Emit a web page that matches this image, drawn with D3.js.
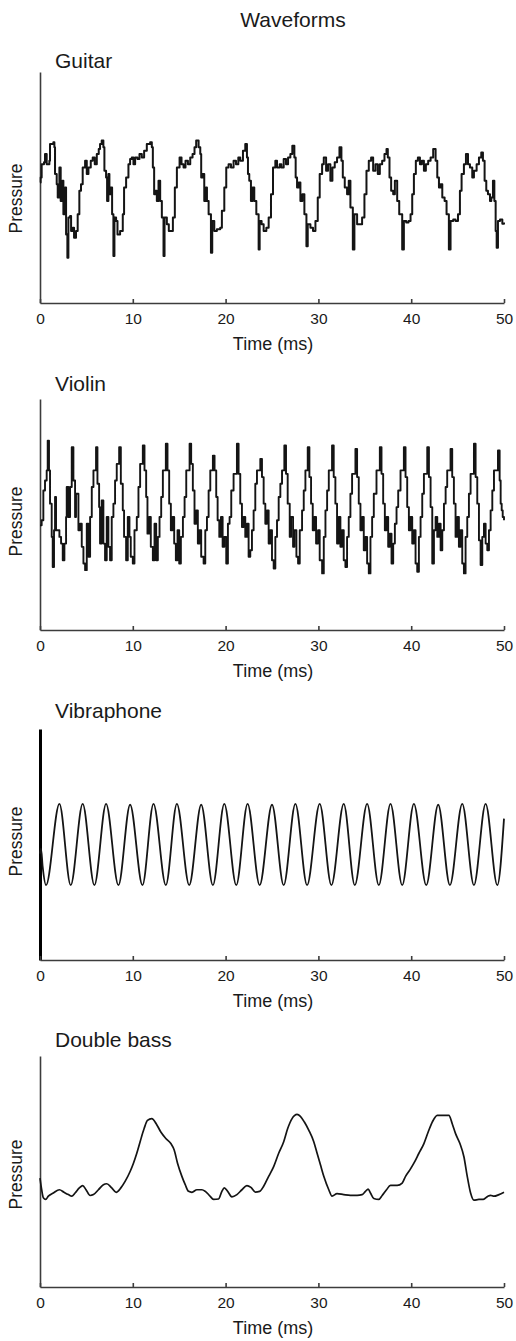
<!DOCTYPE html>
<html>
<head>
<meta charset="utf-8">
<script src="https://cdn.jsdelivr.net/npm/d3@7"></script>
<style>
  body { margin: 0; background: #fff; }
  svg { display: block; font-family: "Liberation Sans", Arial, Helvetica, sans-serif; }
  .domain { stroke: #3c3c3c; stroke-width: 1.6; }
  .tick line { stroke: #3c3c3c; stroke-width: 1.6; }
  .tick text { font-size: 15.5px; fill: #1a1a1a; }
  .wave { fill: none; stroke: #141414; stroke-linejoin: round; }
</style>
</head>
<body>
<div id="chart"></div>
<script>
// Waveforms: [time (ms), pressure (arbitrary units, 0-10)]
const guitar = [
  [0,5.22],[0.07,5.43],[0.18,6.01],[0.43,6.09],[0.54,6.45],[0.72,6.01],[1.01,6.16],[1.08,6.88],[1.44,6.96],[1.55,6.74],
  [1.62,5.58],[1.80,5.14],[1.91,4.57],[2.09,5.87],[2.23,4.42],[2.41,5.29],[2.52,3.84],[2.70,5.00],[2.81,2.97],[2.95,1.96],
  [3.06,3.70],[3.24,3.77],[3.35,3.12],[3.53,3.26],[3.67,2.83],[3.88,3.12],[4.06,3.84],[4.24,4.86],[4.42,5.14],[4.60,5.87],
  [4.86,6.16],[5.04,5.58],[5.22,5.87],[5.47,6.16],[5.68,6.30],[5.90,6.01],[6.12,6.45],[6.33,6.67],[6.47,6.88],[6.65,7.03],
  [6.83,6.74],[6.94,5.72],[7.12,5.43],[7.23,4.42],[7.37,5.58],[7.48,4.71],[7.63,5.00],[7.77,3.84],[7.91,2.03],[8.02,3.70],
  [8.20,3.55],[8.35,2.97],[8.63,3.12],[8.92,3.84],[9.06,5.00],[9.28,5.43],[9.53,6.01],[9.71,6.23],[9.89,6.30],[10.07,6.01],
  [10.25,6.30],[10.50,6.23],[10.72,6.45],[10.97,6.30],[11.22,6.59],[11.51,6.88],[11.87,6.96],[12.05,6.74],[12.16,5.87],[12.30,4.71],
  [12.45,4.86],[12.59,4.42],[12.77,5.29],[12.95,4.42],[13.13,3.70],[13.31,2.03],[13.42,3.70],[13.67,3.41],[13.88,3.12],[14.10,3.12],
  [14.32,3.70],[14.53,5.00],[14.75,5.87],[15.04,6.30],[15.25,6.01],[15.47,5.87],[15.68,6.16],[15.94,6.01],[16.19,6.30],[16.44,6.45],
  [16.65,6.74],[16.83,7.03],[17.09,6.74],[17.27,6.45],[17.37,5.43],[17.52,5.58],[17.70,4.42],[17.88,5.00],[17.99,4.42],[18.17,3.84],
  [18.42,2.17],[18.56,3.55],[18.78,3.12],[19.06,3.19],[19.42,3.26],[19.60,3.99],[19.86,5.00],[20.07,5.87],[20.32,6.01],[20.58,5.87],
  [20.86,6.16],[21.12,6.01],[21.37,6.30],[21.58,6.16],[21.87,6.59],[22.12,6.88],[22.30,6.30],[22.41,5.58],[22.55,5.29],[22.73,4.42],
  [22.91,5.00],[23.09,4.42],[23.31,3.84],[23.56,2.32],[23.67,3.55],[23.88,3.41],[24.10,3.12],[24.39,3.26],[24.64,3.70],[24.89,4.71],
  [25.11,5.87],[25.36,6.16],[25.54,5.87],[25.83,6.01],[26.01,5.87],[26.26,6.23],[26.51,6.01],[26.73,6.30],[26.98,6.45],[27.19,6.81],
  [27.41,6.30],[27.55,5.43],[27.70,5.00],[27.88,5.22],[28.06,4.42],[28.27,4.71],[28.49,3.84],[28.71,2.46],[28.85,3.41],[29.14,3.26],
  [29.42,3.12],[29.68,3.55],[29.93,4.57],[30.14,5.58],[30.40,6.01],[30.58,6.30],[30.83,5.72],[31.04,6.01],[31.29,5.29],[31.51,5.87],
  [31.76,6.09],[32.01,6.30],[32.27,6.74],[32.48,6.16],[32.63,5.43],[32.84,5.00],[33.09,4.71],[33.27,5.29],[33.45,4.13],[33.71,2.32],
  [33.88,3.84],[34.17,3.41],[34.46,3.41],[34.71,3.70],[34.96,4.71],[35.18,5.72],[35.43,6.16],[35.68,6.30],[35.90,5.72],[36.15,6.01],
  [36.40,5.58],[36.62,6.01],[36.87,6.16],[37.12,6.45],[37.34,6.67],[37.48,6.30],[37.66,5.43],[37.84,4.86],[38.06,4.71],[38.24,5.29],
  [38.49,4.42],[38.71,3.84],[39.03,2.32],[39.21,3.55],[39.46,3.48],[39.71,3.55],[39.93,3.84],[40.11,4.71],[40.29,5.58],[40.50,6.16],
  [40.72,6.30],[40.94,6.01],[41.15,6.16],[41.37,5.72],[41.58,6.01],[41.83,6.16],[42.09,6.30],[42.37,6.67],[42.63,6.16],[42.81,5.43],
  [42.99,5.00],[43.17,5.14],[43.35,4.57],[43.60,4.42],[43.81,3.84],[44.06,2.32],[44.24,3.55],[44.53,3.62],[44.78,3.55],[45.04,3.84],
  [45.25,4.86],[45.43,5.58],[45.68,6.01],[45.90,6.45],[46.12,6.01],[46.33,5.87],[46.58,5.43],[46.76,5.72],[47.05,6.01],[47.30,6.30],
  [47.55,6.52],[47.73,6.16],[47.91,5.29],[48.09,4.86],[48.27,4.71],[48.49,4.42],[48.63,4.57],[48.81,5.29],[48.96,4.42],[49.10,3.12],
  [49.21,2.39],[49.35,3.55],[49.57,3.62],[49.82,3.43],[50.00,3.48]
];

const violin = [
  [0.00,4.53],[0.18,4.75],[0.36,6.04],[0.54,6.47],[0.72,6.91],[0.83,8.20],[0.97,6.91],[1.08,5.47],[1.26,4.03],[1.37,2.73],
  [1.51,4.32],[1.62,5.76],[1.73,4.32],[1.87,4.32],[2.09,4.03],[2.27,3.74],[2.45,3.02],[2.63,3.74],[2.81,4.89],[2.88,6.19],
  [3.06,4.89],[3.24,6.19],[3.42,7.91],[3.60,6.47],[3.78,4.89],[3.88,5.90],[4.14,4.32],[4.32,4.60],[4.50,3.60],[4.68,2.88],
  [4.86,2.59],[5.04,4.60],[5.22,3.17],[5.40,4.89],[5.58,6.19],[5.76,6.91],[6.04,7.91],[6.19,6.33],[6.37,5.32],[6.47,3.74],
  [6.65,5.61],[6.83,3.74],[7.01,3.02],[7.19,4.89],[7.37,3.60],[7.55,3.02],[7.73,4.89],[7.91,5.47],[8.09,6.47],[8.27,7.19],
  [8.53,7.91],[8.71,6.33],[8.92,5.18],[9.06,4.03],[9.28,3.02],[9.46,4.89],[9.64,4.03],[9.78,3.17],[10.00,2.88],[10.18,4.32],
  [10.43,4.89],[10.61,6.19],[10.79,7.19],[11.08,7.99],[11.26,6.91],[11.44,5.76],[11.58,4.17],[11.76,4.89],[11.94,3.60],[12.16,3.02],
  [12.34,4.60],[12.52,3.02],[12.70,4.03],[12.88,4.89],[13.06,5.76],[13.24,6.91],[13.56,8.06],[13.74,6.91],[13.92,5.47],[14.10,4.32],
  [14.28,4.89],[14.46,3.74],[14.64,3.02],[14.82,4.32],[15.00,2.88],[15.18,4.03],[15.40,4.89],[15.58,5.76],[15.76,6.91],[16.12,8.06],
  [16.29,7.19],[16.47,6.04],[16.65,4.60],[16.83,5.18],[17.01,3.74],[17.19,4.32],[17.37,3.17],[17.63,2.88],[17.81,4.32],[17.99,4.89],
  [18.17,6.04],[18.35,6.91],[18.63,7.55],[18.81,6.91],[18.99,5.76],[19.14,4.75],[19.32,4.03],[19.50,4.89],[19.68,3.60],[19.86,4.03],
  [20.07,2.88],[20.25,4.60],[20.43,4.89],[20.61,6.04],[20.86,6.76],[21.22,8.06],[21.40,6.76],[21.58,5.47],[21.76,4.46],[21.94,4.89],
  [22.12,4.03],[22.30,4.60],[22.48,3.17],[22.66,3.45],[22.84,4.32],[23.02,5.18],[23.20,6.33],[23.38,6.91],[23.74,7.41],[23.92,6.62],
  [24.10,5.47],[24.28,4.60],[24.46,5.18],[24.64,3.74],[24.82,4.32],[25.00,3.02],[25.18,2.66],[25.36,4.03],[25.54,4.75],[25.72,5.76],
  [25.90,6.33],[26.08,6.91],[26.33,7.99],[26.51,6.76],[26.69,5.47],[26.91,4.03],[27.05,4.89],[27.27,3.60],[27.41,4.32],[27.63,3.17],
  [27.81,2.88],[27.99,4.32],[28.24,5.18],[28.42,6.04],[28.60,6.91],[28.85,7.91],[29.03,6.62],[29.21,5.47],[29.39,4.32],[29.57,4.89],
  [29.75,3.74],[29.96,4.32],[30.14,3.02],[30.40,2.45],[30.58,4.03],[30.76,5.18],[30.94,6.04],[31.12,6.91],[31.47,7.99],[31.65,6.62],
  [31.83,5.47],[32.01,3.74],[32.19,4.89],[32.37,3.60],[32.55,4.32],[32.73,3.02],[32.91,2.73],[33.09,4.03],[33.27,4.89],[33.45,5.90],
  [33.63,6.76],[33.99,7.84],[34.17,6.62],[34.35,5.47],[34.53,4.32],[34.71,4.89],[34.89,3.45],[35.07,4.03],[35.25,2.88],[35.43,2.45],
  [35.61,4.03],[35.79,4.89],[35.97,5.90],[36.26,6.91],[36.62,7.91],[36.80,6.76],[36.98,5.47],[37.16,4.32],[37.34,4.89],[37.52,3.60],
  [37.70,4.17],[37.88,2.88],[38.06,3.74],[38.24,4.60],[38.42,5.32],[38.60,6.04],[38.85,6.91],[39.21,7.91],[39.39,6.62],[39.57,5.32],
  [39.75,4.32],[39.93,4.89],[40.11,3.74],[40.29,4.32],[40.47,2.88],[40.65,2.52],[40.83,4.03],[41.01,4.89],[41.19,5.90],[41.37,6.76],
  [41.73,7.91],[41.91,6.62],[42.09,5.32],[42.27,2.88],[42.45,4.32],[42.63,4.89],[42.81,4.03],[42.99,4.60],[43.17,3.45],[43.35,4.32],
  [43.53,5.47],[43.71,6.19],[43.88,6.91],[44.24,7.84],[44.42,6.62],[44.60,5.47],[44.78,4.03],[44.96,4.89],[45.14,3.60],[45.32,4.32],
  [45.50,2.88],[45.68,2.45],[45.86,4.03],[46.04,4.89],[46.22,5.90],[46.40,6.76],[46.76,8.06],[46.94,6.62],[47.12,5.47],[47.30,3.88],
  [47.48,2.81],[47.66,4.03],[47.84,4.60],[48.02,3.74],[48.20,3.45],[48.38,4.32],[48.56,5.18],[48.74,6.04],[48.92,6.91],[49.35,7.77],
  [49.53,6.47],[49.64,5.47],[49.75,5.18],[49.86,4.89],[50.00,4.75]
];

const vibraphone = [
  [0,4.60],[0.11,4.82],[0.29,4.03],[0.65,3.24],[2.09,6.76],[3.31,3.24],[4.60,6.76],[5.86,3.24],[7.12,6.76],[8.45,3.24],
  [9.71,6.72],[11.04,3.24],[12.23,6.76],[13.56,3.24],[14.75,6.76],[16.08,3.24],[17.37,6.72],[18.63,3.24],[19.86,6.76],[21.15,3.24],
  [22.37,6.76],[23.67,3.24],[25.00,6.72],[26.26,3.24],[27.52,6.76],[28.78,3.24],[30.14,6.76],[31.40,3.24],[32.73,6.76],[33.92,3.24],
  [35.25,6.76],[36.51,3.24],[37.77,6.76],[39.03,3.24],[40.29,6.76],[41.62,3.24],[42.91,6.72],[44.17,3.24],[45.50,6.76],[46.76,3.24],
  [48.02,6.76],[49.28,3.24],[50.00,6.12]
];

const doubleBass = [
  [0,4.71],[0.18,4.21],[0.36,3.86],[0.61,3.79],[0.90,3.93],[1.44,4.07],[2.09,4.21],[2.59,4.10],[3.06,4.00],[3.42,3.93],
  [3.78,4.07],[4.24,4.29],[4.60,4.39],[4.96,4.21],[5.40,3.96],[5.76,4.00],[6.29,4.21],[6.83,4.43],[7.19,4.47],[7.73,4.29],
  [8.20,4.10],[8.71,4.29],[9.17,4.57],[9.71,5.00],[10.07,5.36],[10.43,5.79],[10.79,6.29],[11.22,6.86],[11.58,7.21],[12.05,7.29],
  [12.52,7.07],[13.02,6.71],[13.56,6.43],[14.10,6.21],[14.46,5.93],[14.82,5.36],[15.29,4.79],[15.65,4.43],[16.01,4.14],[16.37,4.10],
  [16.91,4.21],[17.45,4.21],[17.81,4.14],[18.27,3.96],[18.71,3.79],[19.24,3.81],[19.60,4.14],[19.86,4.29],[20.22,4.14],[20.68,3.90],
  [21.22,4.00],[21.76,4.21],[22.30,4.39],[22.73,4.31],[23.20,4.11],[23.67,4.14],[24.10,4.36],[24.64,4.79],[25.18,5.21],[25.72,5.79],
  [26.26,6.29],[26.69,6.86],[27.16,7.29],[27.70,7.47],[28.06,7.39],[28.49,7.14],[28.96,6.79],[29.50,6.29],[29.86,5.79],[30.22,5.29],
  [30.58,4.79],[31.12,4.21],[31.47,3.93],[32.01,4.04],[32.73,4.00],[33.45,3.97],[34.17,3.97],[34.71,4.00],[35.07,4.14],[35.36,4.24],
  [35.61,4.07],[35.97,3.83],[36.51,3.79],[36.87,3.96],[37.34,4.21],[37.77,4.40],[38.49,4.40],[39.03,4.50],[39.39,4.79],[39.86,5.07],
  [40.29,5.36],[40.83,5.79],[41.37,6.21],[41.83,6.71],[42.27,7.14],[42.81,7.43],[43.53,7.43],[44.06,7.43],[44.42,7.07],[44.78,6.64],
  [45.25,6.21],[45.68,5.64],[46.04,4.79],[46.40,4.07],[46.76,3.76],[47.30,3.79],[47.77,3.79],[48.27,3.93],[48.56,3.97],[48.92,3.93],
  [49.46,4.00],[50.00,4.10]
];

const panelNames = ["Guitar", "Violin", "Vibraphone", "Double bass"];
const timeTicks = [0, 10, 20, 30, 40, 50];
const timeDomain = [0, 50];
const pressureDomain = [0, 10];

// layout
const W = 516, H = 1341;
const xLeft = 40, xRight = 504;
const panelTop = [72, 399, 729, 1056];
const panelHeight = 231;
const titleGap = [4, 8, 11, 9];
const pressureShift = [11, 7, -3, 3];

const svg = d3.select("#chart").append("svg")
  .attr("width", W)
  .attr("height", H);

svg.append("rect").attr("width", W).attr("height", H).attr("fill", "#fff");

svg.append("text")
  .attr("x", 293)
  .attr("y", 27)
  .attr("text-anchor", "middle")
  .attr("font-size", 21)
  .attr("fill", "#1a1a1a")
  .text("Waveforms");

const x = d3.scaleLinear().domain(timeDomain).range([xLeft, xRight]);

const series = [
  { data: guitar, curve: d3.curveStepAfter, sw: 2 },
  { data: violin, curve: d3.curveStepAfter, sw: 1.9 },
  { data: vibraphone, curve: d3.curveMonotoneX, sw: 1.8 },
  { data: doubleBass, curve: d3.curveMonotoneX, sw: 1.7 }
];

series.forEach((s, i) => {
  const top = panelTop[i];
  const bottom = top + panelHeight;
  const y = d3.scaleLinear().domain(pressureDomain).range([bottom, top]);

  const g = svg.append("g");

  // panel title
  g.append("text")
    .attr("x", 55)
    .attr("y", top - titleGap[i])
    .attr("font-size", 21)
    .attr("fill", "#1a1a1a")
    .text(panelNames[i]);

  // y axis (no ticks)
  const yAxis = g.append("g")
    .attr("transform", `translate(${xLeft},0)`)
    .call(d3.axisLeft(y).tickValues([]).tickSizeOuter(0));
  // the vibraphone panel has a heavier black y axis
  if (i === 2) yAxis.select(".domain").style("stroke", "#000").style("stroke-width", "3px");

  // x axis, small ticks pointing inward
  const xAxis = g.append("g")
    .attr("transform", `translate(0,${bottom})`)
    .call(d3.axisBottom(x).tickValues(timeTicks).tickSizeInner(-4).tickSizeOuter(0));
  xAxis.selectAll(".tick text").attr("y", 21).attr("dy", null);

  g.append("text")
    .attr("x", (xLeft + xRight) / 2 + 1)
    .attr("y", bottom + 47)
    .attr("text-anchor", "middle")
    .attr("font-size", 18)
    .attr("fill", "#1a1a1a")
    .text("Time (ms)");

  g.append("text")
    .attr("transform", `translate(22,${(top + bottom) / 2 + pressureShift[i]}) rotate(-90)`)
    .attr("text-anchor", "middle")
    .attr("font-size", 17.5)
    .attr("fill", "#1a1a1a")
    .text("Pressure");

  const line = d3.line()
    .x(d => x(d[0]))
    .y(d => y(d[1]))
    .curve(s.curve);

  g.append("path")
    .datum(s.data)
    .attr("class", "wave")
    .attr("stroke-width", s.sw)
    .attr("d", line);
});
</script>
</body>
</html>
